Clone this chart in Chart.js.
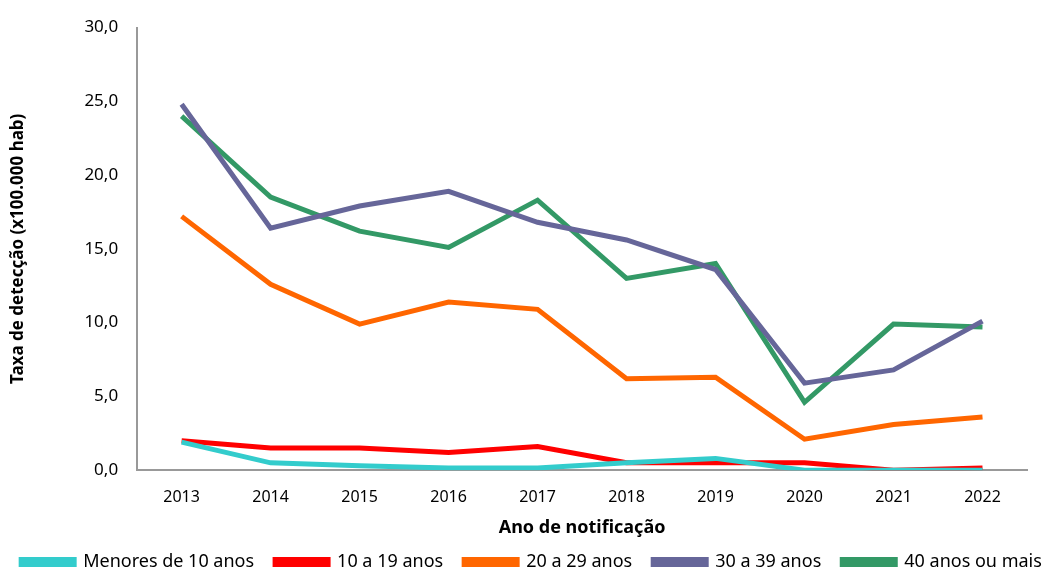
<!DOCTYPE html>
<html>
<head>
<meta charset="utf-8">
<script src="https://cdn.jsdelivr.net/npm/chart.js@4/dist/chart.umd.min.js"></script>
<style>
  html, body { margin: 0; padding: 0; background: #fff; }
  #wrap { width: 1063px; height: 572px; position: relative; }
</style>
</head>
<body>
<div id="wrap"><canvas id="myChart"></canvas></div>
<script>
// ========== data
const anos = ['2013', '2014', '2015', '2016', '2017', '2018', '2019', '2020', '2021', '2022']
const menores10 = [1.9, 0.5, 0.3, 0.15, 0.15, 0.5, 0.8, 0.0, 0.0, 0.0]
const de10a19 = [2.0, 1.5, 1.5, 1.2, 1.6, 0.5, 0.5, 0.5, 0.0, 0.15]
const de20a29 = [17.2, 12.6, 9.9, 11.4, 10.9, 6.2, 6.3, 2.1, 3.1, 3.6]
const de30a39 = [24.8, 16.4, 17.9, 18.9, 16.8, 15.6, 13.6, 5.9, 6.8, 10.1]
const mais40 = [24.0, 18.5, 16.2, 15.1, 18.3, 13.0, 14.0, 4.6, 9.9, 9.7]

const fonte = '"Noto Sans", "Open Sans", sans-serif'

function serie(label, data, cor) {
	return {
		label: label,
		data: data,
		borderColor: cor,
		backgroundColor: cor,
		borderWidth: 5,
		pointRadius: 0,
		tension: 0,
		fill: false
	}
}

var ctx = document.getElementById('myChart').getContext('2d');
let myChart = new Chart(ctx, {
type: 'line',
data: {
	labels: anos,
	datasets: [
		serie('Menores de 10 anos', menores10, '#33CCCC'),
		serie('10 a 19 anos', de10a19, '#FF0000'),
		serie('20 a 29 anos', de20a29, '#FF6600'),
		serie('30 a 39 anos', de30a39, '#666699'),
		serie('40 anos ou mais', mais40, '#339966')
	]
},
options: {
	responsive: true,
	maintainAspectRatio: false,
	animation: false,
	// negative bottom padding pulls the legend down close to the edge
	layout: { padding: { left: 0, right: 0, top: 26, bottom: -9 } },
	plugins: {
		legend: {
			position: 'bottom',
			labels: {
				boxWidth: 53,
				boxHeight: 5,
				padding: 21,
				color: '#000',
				font: { family: fonte, size: 18 }
			}
		},
		tooltip: { enabled: false }
	},
	scales: {
		x: {
			offset: true,
			grid: { display: false, drawTicks: false },
			border: { color: '#999', width: 2 },
			ticks: { color: '#000', padding: 18, font: { family: fonte, size: 16 } },
			title: {
				display: true,
				text: 'Ano de notificação',
				color: '#000',
				padding: { top: -8, bottom: -7 },
				font: { family: fonte, size: 18, weight: 'bold' }
			}
		},
		y: {
			min: 0,
			max: 30,
			grid: { display: false, drawTicks: false },
			border: { color: '#999', width: 2 },
			ticks: {
				stepSize: 5,
				color: '#000',
				padding: 19,
				font: { family: fonte, size: 17, lineHeight: 1 },
				callback: v => v.toFixed(1).replace('.', ',')
			},
			title: {
				display: true,
				text: 'Taxa de detecção (x100.000 hab)',
				color: '#000',
				padding: { top: 8, bottom: 37 },
				font: { family: fonte, size: 17, weight: 'bold' }
			}
		},
		// empty right margin, so the legend can use the full width
		margemDireita: {
			position: 'right',
			grid: { display: false, drawTicks: false },
			border: { display: false },
			ticks: { display: false },
			afterFit: s => { s.width = 36 }
		}
	}
}
});
</script>
</body>
</html>
